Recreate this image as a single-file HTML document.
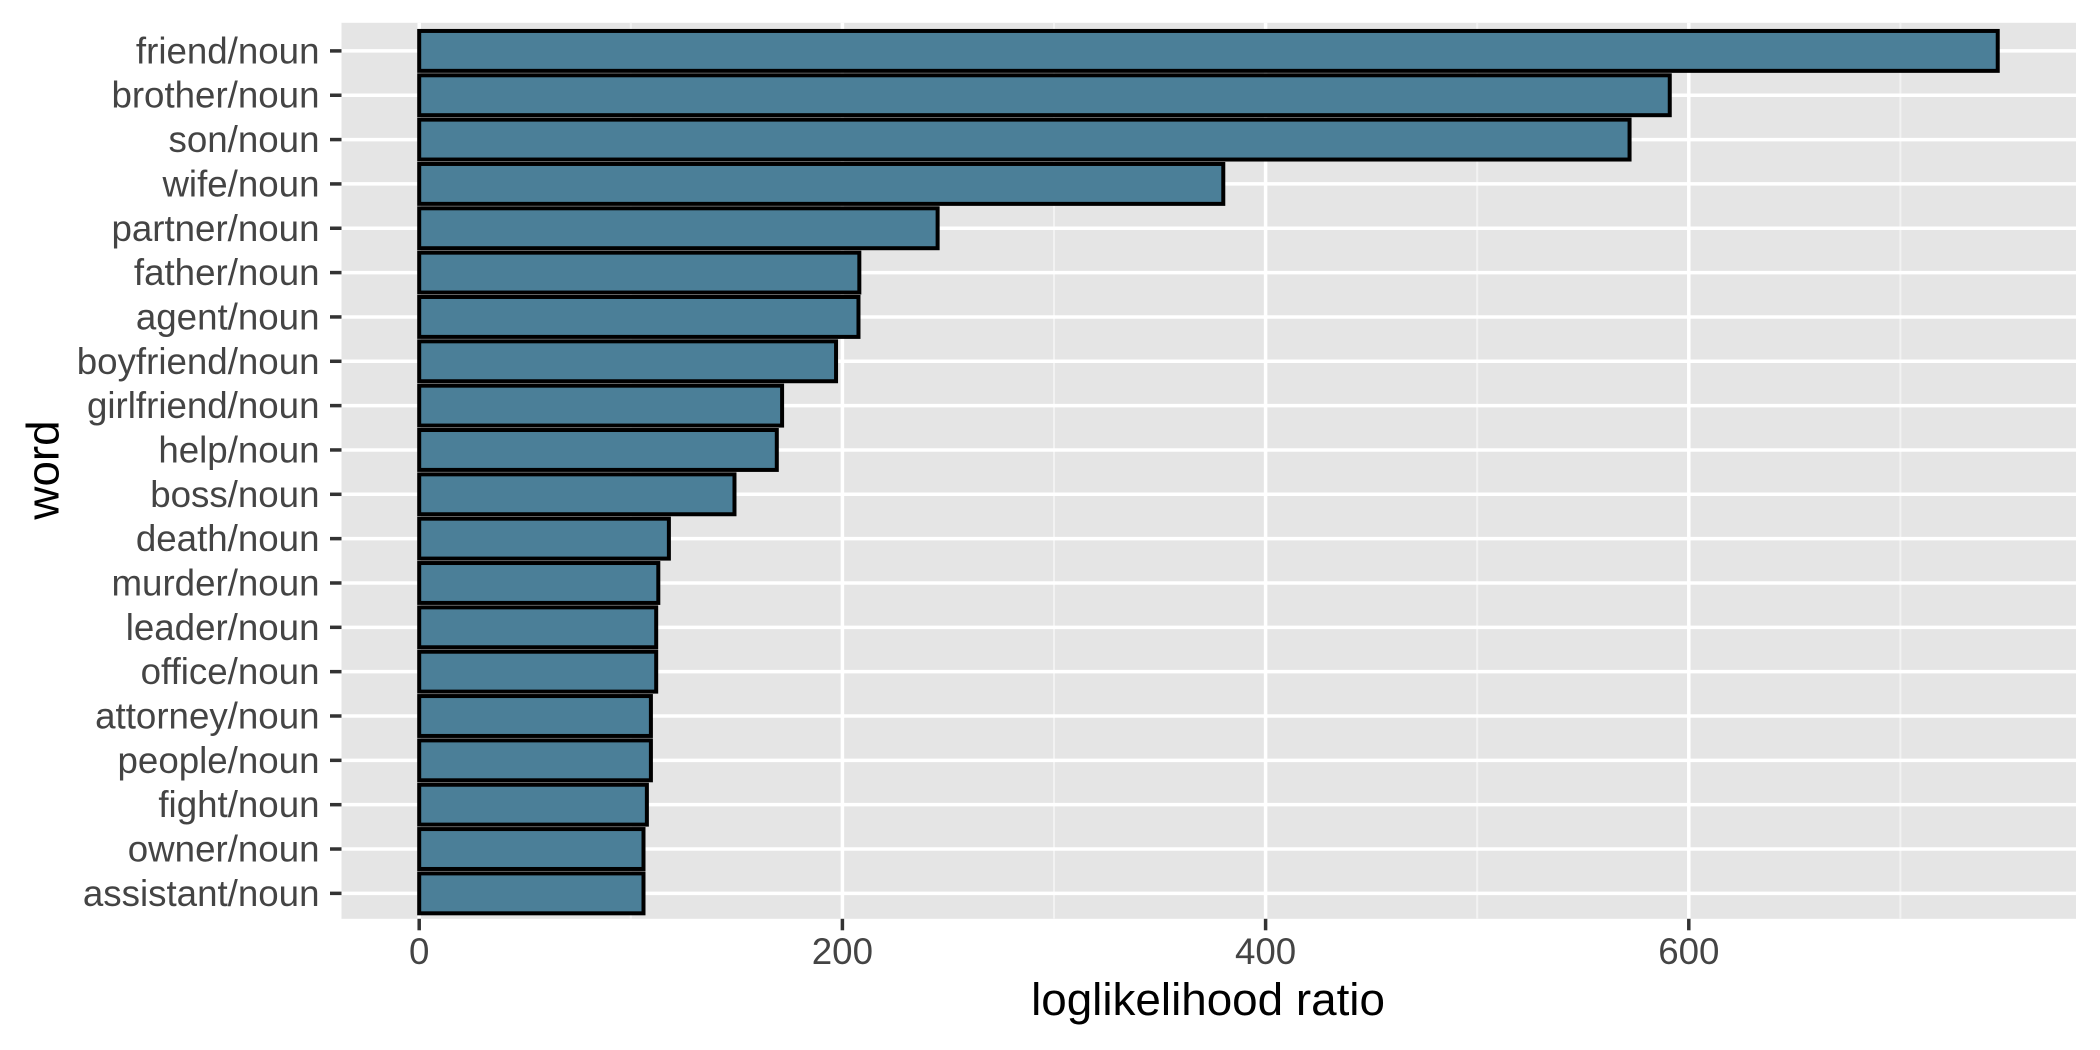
<!DOCTYPE html>
<html><head><meta charset="utf-8"><style>
body{margin:0;background:#fff}
svg{display:block;font-family:"Liberation Sans",Arial,sans-serif}
</style></head><body>
<svg id="chart" width="2100" height="1050" viewBox="0 0 2100 1050">
<rect x="341.5" y="22.8" width="1734.5" height="896" fill="#e5e5e5"/>
<g id="grid"></g><g id="bars"></g><g id="yaxis"></g><g id="xaxis"></g>
<text x="1208" y="1015" font-size="45.8" text-anchor="middle" fill="#000">loglikelihood ratio</text>
<text transform="translate(43,470) rotate(-90)" font-size="45.8" text-anchor="middle" dominant-baseline="central" fill="#000">word</text>
</svg>
<script>
const categories=["friend/noun","brother/noun","son/noun","wife/noun","partner/noun","father/noun","agent/noun","boyfriend/noun","girlfriend/noun","help/noun","boss/noun","death/noun","murder/noun","leader/noun","office/noun","attorney/noun","people/noun","fight/noun","owner/noun","assistant/noun"];
const values=[746,591,572,380,245,208,207.6,197,171.5,169,149,118,113,112,112,109.5,109.5,107.6,106,106];
const xTicks=[0,200,400,600];
const xMinor=[100,300,500,700];
const NS="http://www.w3.org/2000/svg";
const x=v=>419.2+v*(423.2/200);
const y=i=>50.9+i*44.34;
const L=341.5,R=2076,T=22.8,B=918.8;
function mk(tag,attrs,parent){const e=document.createElementNS(NS,tag);for(const k in attrs)e.setAttribute(k,attrs[k]);document.getElementById(parent).appendChild(e);return e;}
xMinor.forEach(v=>{
 const l=mk('line',{x1:x(v),x2:x(v),y1:T,y2:B,stroke:'#f2f2f2','stroke-width':2},'grid');
 
 
});
xTicks.forEach(v=>{
 const l=mk('line',{x1:x(v),x2:x(v),y1:T,y2:B,stroke:'#fff','stroke-width':3.5},'grid');
 
 
 const t=mk('line',{x1:x(v),x2:x(v),y1:B,y2:B+11.5,stroke:'#333','stroke-width':3.5},'xaxis');
 
 
 const tx=mk('text',{x:x(v),y:B+45,'font-size':36.7,'text-anchor':'middle',fill:'#444'},'xaxis');
 tx.textContent=v;
 
 
});
categories.forEach((c,i)=>{
 const l=mk('line',{x1:L,x2:R,y1:y(i),y2:y(i),stroke:'#fff','stroke-width':3.5},'grid');
 
 
 const h=44.34*0.9;
 const r=mk('rect',{x:x(0),y:y(i)-h/2,width:x(values[i])-x(0),height:h,fill:'#4b7f98',stroke:'#000','stroke-width':4},'bars');
 
 
 const t=mk('line',{x1:L-11.5,x2:L,y1:y(i),y2:y(i),stroke:'#333','stroke-width':3.5},'yaxis');
 
 
 const tx=mk('text',{x:L-22,y:y(i),'font-size':36.7,'text-anchor':'end','dominant-baseline':'central',fill:'#444'},'yaxis');
 tx.textContent=c;
 
 
});
</script>
</body></html>
